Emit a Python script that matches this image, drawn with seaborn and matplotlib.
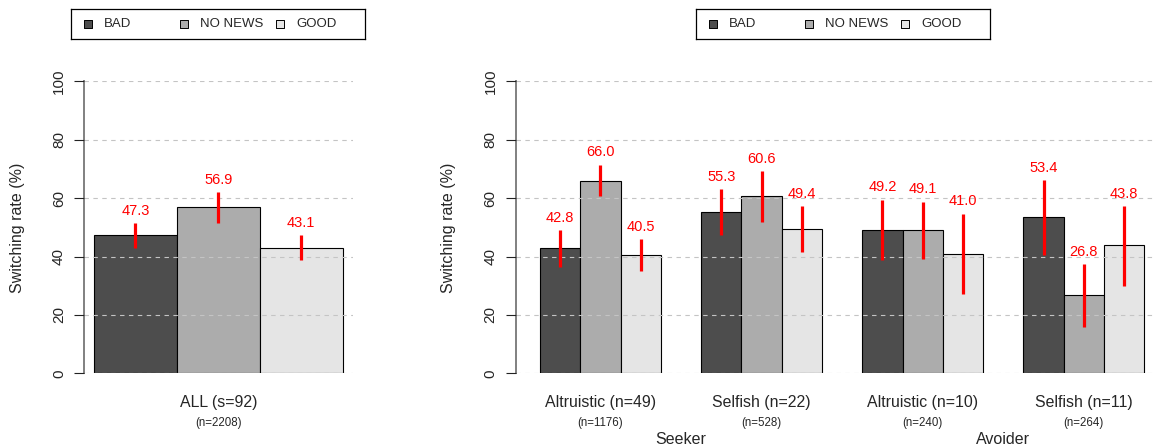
import matplotlib
matplotlib.use("Agg")
import matplotlib.pyplot as plt
import matplotlib.transforms as mtransforms
import seaborn as sns
import pandas as pd

# data
news = ["BAD", "NO NEWS", "GOOD"]
colors = ["#4d4d4d", "#acacac", "#e5e5e5"]

all_group = ["ALL (s=92)"]
all_n = ["(n=2208)"]
all_rate = [[47.3], [56.9], [43.1]]
all_lo = [[42.8], [51.5], [38.8]]
all_hi = [[51.5], [62.1], [47.3]]

groups = ["Altruistic (n=49)", "Selfish (n=22)", "Altruistic (n=10)", "Selfish (n=11)"]
group_n = ["(n=1176)", "(n=528)", "(n=240)", "(n=264)"]
types = ["Seeker", "Avoider"]
rate = [[42.8, 55.3, 49.2, 53.4],
        [66.0, 60.6, 49.1, 26.8],
        [40.5, 49.4, 41.0, 43.8]]
ci_lo = [[36.5, 47.4, 38.8, 40.5],
         [60.7, 51.9, 39.2, 16.0],
         [35.0, 41.4, 27.2, 30.0]]
ci_hi = [[49.1, 63.1, 59.5, 66.1],
         [71.4, 69.3, 58.8, 37.4],
         [45.9, 57.3, 54.7, 57.3]]
yticks = [0, 20, 40, 60, 80, 100]

sns.set_style("white")
plt.rcParams["font.family"] = ["Liberation Sans", "DejaVu Sans"]

W, H = 1154, 448
fig = plt.figure(figsize=(W / 100, H / 100), dpi=100)


def px_axes(l, t, r, b):
    return fig.add_axes([l / W, 1 - b / H, (r - l) / W, (b - t) / H])


def make_df(names, vals):
    rows = []
    for i, lev in enumerate(news):
        for j, g in enumerate(names):
            rows.append({"group": g, "news": lev, "rate": vals[i][j]})
    return pd.DataFrame(rows)


def panel(ax, names, ns, vals, lo, hi, xlim):
    df = make_df(names, vals)
    sns.barplot(data=df, x="group", y="rate", hue="news", order=names,
                hue_order=news, palette=colors, width=0.75, gap=0,
                edgecolor="black", linewidth=0.8, errorbar=None,
                legend=False, ax=ax)
    centers = [[] for _ in names]
    for i, cont in enumerate(ax.containers):
        for j, bar in enumerate(cont):
            x = bar.get_x() + bar.get_width() / 2
            centers[j].append(x)
            ax.vlines(x, lo[i][j], hi[i][j], color="red", lw=2.3, zorder=4)
            ax.annotate(f"{vals[i][j]:.1f}", (x, hi[i][j]), xytext=(0, 9),
                        textcoords="offset points", ha="center", va="center",
                        color="red", fontsize=10.5, zorder=5)
    ax.set_xlim(*xlim)
    ax.set_ylim(0, 100)
    ax.set_xlabel("")
    ax.set_ylabel("")
    ax.set_xticks([])
    ax.set_yticks(yticks)
    ax.set_yticklabels([str(t) for t in yticks], rotation=90, va="center",
                       ha="right", fontsize=11)
    ax.tick_params(axis="y", length=7, width=0.8, color="#222222", pad=6,
                   left=True)
    for s in ["top", "right", "bottom"]:
        ax.spines[s].set_visible(False)
    ax.spines["left"].set_color("#808080")
    ax.spines["left"].set_linewidth(1.4)
    ax.set_axisbelow(False)
    ax.yaxis.grid(True, linestyle=(0, (4, 4)), color="#c4c4c4", lw=0.8)
    ax.xaxis.grid(False)
    ax.text(-67 / (ax.get_position().width * W), 0.5, "Switching rate (%)",
            transform=ax.transAxes, rotation=90, ha="center", va="center",
            fontsize=11.5)
    trans = mtransforms.blended_transform_factory(ax.transData, fig.transFigure)
    gx = [sum(c) / len(c) for c in centers]
    for x, g, n in zip(gx, names, ns):
        ax.text(x, 1 - 402.5 / H, g, transform=trans, ha="center",
                va="center", fontsize=11.4)
        ax.text(x, 1 - 422.7 / H, n, transform=trans, ha="center",
                va="center", fontsize=8.3)
    return gx


def legend_box(l):
    lax = px_axes(l, 9, l + 294, 39)
    lax.set_xlim(0, 294)
    lax.set_ylim(0, 30)
    lax.set_xticks([])
    lax.set_yticks([])
    for s in lax.spines.values():
        s.set_color("black")
        s.set_linewidth(0.9)
    for i, (lev, c) in enumerate(zip(news, colors)):
        lax.scatter([16.5 + 96 * i], [15], marker="s", s=40, color=c,
                    edgecolor="black", linewidth=0.7)
        lax.text(33 + 96 * i, 15, lev, ha="left", va="center", fontsize=9.5)


ax1 = px_axes(84, 81.5, 352.6, 373.3)
panel(ax1, all_group, all_n, all_rate, all_lo, all_hi, (-0.405, 0.405))

ax2 = px_axes(515.8, 81.5, 1153, 373.3)
gx = panel(ax2, groups, group_n, rate, ci_lo, ci_hi, (-0.525, 3.429))
trans2 = mtransforms.blended_transform_factory(ax2.transData, fig.transFigure)
for k, t in enumerate(types):
    ax2.text((gx[2 * k] + gx[2 * k + 1]) / 2, 1 - 439.3 / H, t,
             transform=trans2, ha="center", va="center", fontsize=11.5)

legend_box(71)
legend_box(696)

fig.savefig("out.png", dpi=100)
